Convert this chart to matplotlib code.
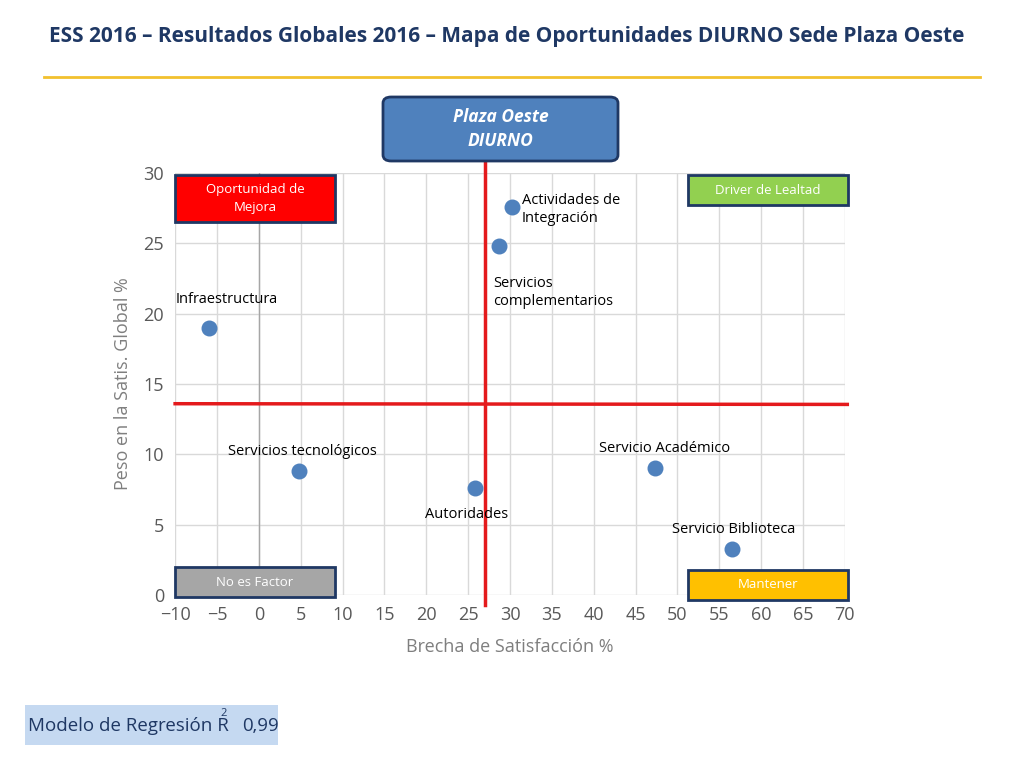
import matplotlib
matplotlib.use('Agg')
import matplotlib.pyplot as plt
from matplotlib.patches import FancyBboxPatch, Rectangle

plt.rcParams.update({'font.family': 'Open Sans'})

labels = ['Infraestructura', 'Servicios tecnológicos', 'Autoridades', 'Servicios\ncomplementarios',
          'Actividades de\nIntegración', 'Servicio Académico', 'Servicio Biblioteca']
brecha = [-5.9, 4.8, 25.8, 28.7, 30.2, 47.3, 56.5]
peso = [19.0, 8.8, 7.6, 24.8, 27.6, 9.0, 3.3]
label_offsets = [(-4, 2.0, 'left'), (-8.5, 1.4, 'left'), (-6, -1.9, 'left'), (-0.7, -3.3, 'left'),
                 (1.2, -0.2, 'left'), (-6.7, 1.4, 'left'), (-7.2, 1.4, 'left')]
x_cut = 27
y_cut = 13.6

BLUE = '#4f81bd'
RED = '#e41a1c'

fig = plt.figure(figsize=(10.24, 7.68), dpi=100)
ax = fig.add_axes([0.171, 0.225, 0.654, 0.55])

ax.set_xlim(-10, 70)
ax.set_ylim(0, 30)
ax.set_xticks(range(-10, 71, 5))
ax.set_yticks(range(0, 31, 5))
ax.grid(color='#d9d9d9', linewidth=1)
ax.axvline(0, color='#a6a6a6', linewidth=1)
ax.set_axisbelow(True)
for s in ax.spines.values():
    s.set_visible(False)
ax.tick_params(length=0, labelsize=13, colors='#595959', pad=8)
ax.set_xlabel('Brecha de Satisfacción %', fontsize=13, color='#7f7f7f', labelpad=10)
ax.set_ylabel('Peso en la Satis. Global %', fontsize=13, color='#7f7f7f', labelpad=8)

ax.scatter(brecha, peso, s=110, color=BLUE, zorder=5)
for lab, x, y, (dx, dy, ha) in zip(labels, brecha, peso, label_offsets):
    ax.text(x + dx, y + dy, lab, fontsize=10.5, ha=ha, va='center', color='black', zorder=6)

ax.plot([x_cut, x_cut], [-0.7, 31], color=RED, linewidth=2.5, clip_on=False, zorder=4)
ax.plot([-10, 70.3], [y_cut, y_cut - 0.05], color=RED, linewidth=2.5, clip_on=False, zorder=4)

# Title
fig.text(0.048, 0.953, 'ESS 2016 – Resultados Globales 2016 – Mapa de Oportunidades DIURNO Sede Plaza Oeste',
         fontsize=15, fontweight='bold', color='#1f3864', va='center')
fig.add_artist(plt.Line2D([0.043, 0.957], [0.9, 0.9], color='#f2c12e', linewidth=2))

def box(x0, y0, x1, y1, fc, text, tc='white', fs=9.5, style='square,pad=0', bold=False, italic=False):
    W, H = 1024, 768
    p = FancyBboxPatch((x0 / W, 1 - y1 / H), (x1 - x0) / W, (y1 - y0) / H,
                       boxstyle=style, transform=fig.transFigure,
                       facecolor=fc, edgecolor='#1f3864', linewidth=2, zorder=10)
    fig.add_artist(p)
    fig.text((x0 + x1) / 2 / W, 1 - (y0 + y1) / 2 / H, text, ha='center', va='center',
             fontsize=fs, color=tc, fontweight='bold' if bold else 'normal',
             style='italic' if italic else 'normal', zorder=11, linespacing=1.4)

box(175, 175, 335, 222, '#ff0000', 'Oportunidad de\nMejora')
box(688, 175, 848, 205, '#92d050', 'Driver de Lealtad')
box(175, 567, 335, 597, '#a6a6a6', 'No es Factor')
box(688, 570, 848, 600, '#ffc000', 'Mantener')
box(383, 97, 618, 161, BLUE, 'Plaza Oeste\nDIURNO', fs=12.5, style='round,pad=0,rounding_size=0.008',
    bold=True, italic=True)

fig.add_artist(Rectangle((25 / 1024, 1 - 745 / 768), 253 / 1024, 40 / 768, transform=fig.transFigure,
                         facecolor='#c5d9f1', edgecolor='none'))
fig.text(28 / 1024, 1 - 726 / 768, 'Modelo de Regresión R', fontsize=13.5, color='#1f3864', va='center')
fig.text(220 / 1024, 1 - 714 / 768, '2', fontsize=8, color='#1f3864', va='center')
fig.text(242 / 1024, 1 - 726 / 768, '0,99', fontsize=13.5, color='#1f3864', va='center')

fig.savefig('out.png', dpi=100)
